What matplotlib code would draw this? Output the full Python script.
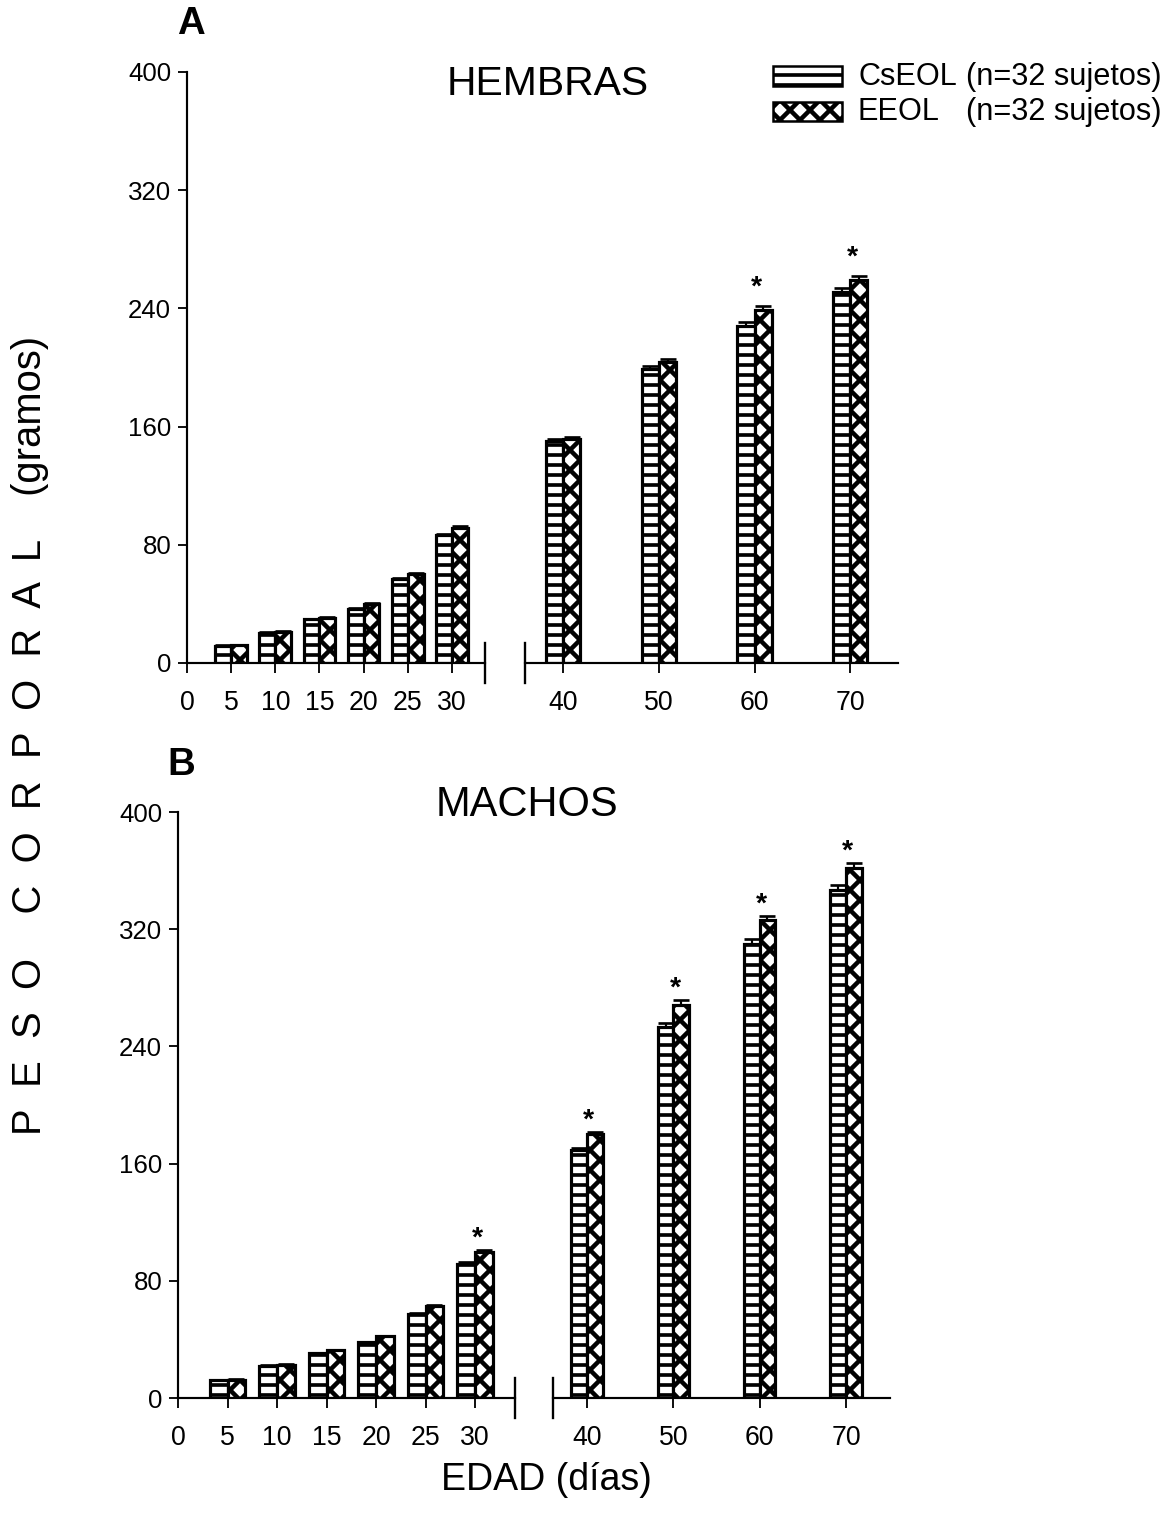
import numpy as np
import matplotlib
matplotlib.use("Agg")
import matplotlib.pyplot as plt
from matplotlib.patches import Rectangle
from matplotlib.lines import Line2D

plt.rcParams['font.family'] = ['Liberation Sans', 'DejaVu Sans']
plt.rcParams['hatch.linewidth'] = 2.2
plt.rcParams['hatch.color'] = 'black'

# ---------------- data ----------------
days_early = [5, 10, 15, 20, 25, 30]
days_late = [40, 50, 60, 70]
yticks = [0, 80, 160, 240, 320, 400]
xticks_early = [0, 5, 10, 15, 20, 25, 30]
xticks_late = [40, 50, 60, 70]

cs_hembras = [11.5, 20.5, 29.5, 36.5, 57, 86.5, 150, 199, 228, 251]
ee_hembras = [12, 21, 30.5, 40, 60, 91.5, 151.5, 204, 239, 259]
cs_hembras_err = [0.5, 0.5, 0.5, 0.5, 0.5, 1, 1.5, 2, 3, 3]
ee_hembras_err = [0.5, 0.5, 0.5, 0.5, 1, 1, 1.5, 2, 2.5, 3]
sig_hembras = [60, 70]

cs_machos = [12, 22, 30.5, 38, 57.5, 91.5, 169, 253, 310, 347]
ee_machos = [12.5, 22.5, 32.5, 42, 63, 100, 180, 268.5, 326, 362]
cs_machos_err = [0.5, 0.5, 0.5, 0.5, 0.5, 1, 1.5, 3, 3, 3]
ee_machos_err = [0.5, 0.5, 0.5, 0.5, 0.5, 1, 1.5, 3, 3, 3.5]
sig_machos = [30, 40, 50, 60, 70]

label_cs = "CsEOL"
label_ee = "EEOL"
label_n = "(n=32 sujetos)"

# ---------------- layout ----------------
W, H = 1167, 1514
DPI = 120
fig = plt.figure(figsize=(W / DPI, H / DPI), dpi=DPI)

BW = 1.8
EDGE = 1.9
HLW_CS = 2.2
HLW_EE = 2.7


def fx(px):
    return px / W


def fy(py):
    return 1 - py / H


def set_hlw(patches, lw):
    for p in patches:
        try:
            p.set_hatch_linewidth(lw)
        except Exception:
            pass


def draw_bars(ax, days, cs, ee, cse, eee, sig, star_off):
    days = np.asarray(days, dtype=float)
    b1 = ax.bar(days - BW / 2, cs, width=BW, facecolor='white', edgecolor='black',
                linewidth=EDGE, hatch='--', zorder=2)
    b2 = ax.bar(days + BW / 2, ee, width=BW, facecolor='white', edgecolor='black',
                linewidth=EDGE, hatch='xx', zorder=2)
    set_hlw(b1, HLW_CS)
    set_hlw(b2, HLW_EE)
    ax.errorbar(days - BW / 2, cs, yerr=[np.zeros(len(cs)), cse], fmt='none',
                ecolor='black', elinewidth=1.3, capsize=5, capthick=1.6, zorder=3)
    ax.errorbar(days + BW / 2, ee, yerr=[np.zeros(len(ee)), eee], fmt='none',
                ecolor='black', elinewidth=1.3, capsize=5, capthick=1.6, zorder=3)
    for d, v, e in zip(days, ee, eee):
        if d in sig:
            ax.annotate('*', xy=(d + 0.2, v + e), xytext=(0, star_off),
                        textcoords='offset points', ha='center', va='baseline',
                        fontsize=17, fontweight='bold')


def style(ax, left_spine):
    for s in ['top', 'right']:
        ax.spines[s].set_visible(False)
    ax.spines['left'].set_visible(left_spine)
    ax.spines['bottom'].set_linewidth(1.3)
    ax.spines['left'].set_linewidth(1.3)
    ax.set_ylim(0, 400)
    ax.tick_params(axis='x', direction='out', length=6, width=1.1, pad=10,
                   labelsize=16)
    ax.tick_params(axis='y', direction='out', length=5.5, width=1.1, pad=4,
                   labelsize=15.5)
    ax.patch.set_visible(False)


def brk(ax, xpos):
    ax.add_line(Line2D([xpos, xpos], [-0.034, 0.034], transform=ax.transAxes,
                       color='black', lw=1.4, clip_on=False))


def panel(x0, xb, xr0, xr1, y0, y400, lim_l, lim_r, cs, ee, cse, eee, sig, star_off):
    hgt = (y0 - y400) / H
    axl = fig.add_axes([fx(x0), fy(y0), fx(xb) - fx(x0), hgt])
    axr = fig.add_axes([fx(xr0), fy(y0), fx(xr1) - fx(xr0), hgt])
    n = len(days_early)
    draw_bars(axl, days_early, cs[:n], ee[:n], cse[:n], eee[:n], sig, star_off)
    draw_bars(axr, days_late, cs[n:], ee[n:], cse[n:], eee[n:], sig, star_off)
    axl.set_xlim(*lim_l)
    axr.set_xlim(*lim_r)
    style(axl, True)
    style(axr, False)
    axl.set_yticks(yticks)
    axl.set_xticks(xticks_early)
    axr.set_yticks([])
    axr.set_xticks(xticks_late)
    brk(axl, 1.0)
    brk(axr, 0.0)
    return axl, axr


# Panel A (HEMBRAS)
panel(187, 485, 525, 898, 663, 72, (0, 33.75), (36.0, 75.0),
      cs_hembras, ee_hembras, cs_hembras_err, ee_hembras_err, sig_hembras, 7)
# Panel B (MACHOS)
panel(178, 515, 553, 890, 1398, 812, (0, 34.04), (36.06, 75.1),
      cs_machos, ee_machos, cs_machos_err, ee_machos_err, sig_machos, 2.5)

# ---------------- texts ----------------
fig.text(fx(548), fy(84), "HEMBRAS", ha='center', va='center', fontsize=24.5)
fig.text(fx(527), fy(805), "MACHOS", ha='center', va='center', fontsize=25)
fig.text(fx(191), fy(24), "A", ha='center', va='center', fontsize=23, fontweight='bold')
fig.text(fx(181), fy(765), "B", ha='center', va='center', fontsize=23, fontweight='bold')
fig.text(fx(30), fy(735), "P  E  S  O    C  O  R  P  O  R  A  L    (gramos)",
         rotation=90, ha='center', va='center', fontsize=24)
fig.text(fx(546), fy(1480), "EDAD (días)", ha='center', va='center', fontsize=22.5)

# ---------------- legend ----------------
r1 = Rectangle((fx(773), fy(86)), fx(842) - fx(773), 20 / H, transform=fig.transFigure,
               facecolor='white', edgecolor='black', linewidth=1.5, hatch='--')
r2 = Rectangle((fx(773), fy(121)), fx(842) - fx(773), 19 / H, transform=fig.transFigure,
               facecolor='white', edgecolor='black', linewidth=1.5, hatch='xx')
fig.add_artist(r1)
fig.add_artist(r2)
set_hlw([r1], HLW_CS)
set_hlw([r2], HLW_EE)
fig.text(fx(858), fy(77), label_cs, ha='left', va='center', fontsize=18.4)
fig.text(fx(1162), fy(77), label_n, ha='right', va='center', fontsize=18.4)
fig.text(fx(858), fy(112), label_ee, ha='left', va='center', fontsize=18.4)
fig.text(fx(1162), fy(112), label_n, ha='right', va='center', fontsize=18.4)

fig.savefig("out.png", dpi=DPI)
